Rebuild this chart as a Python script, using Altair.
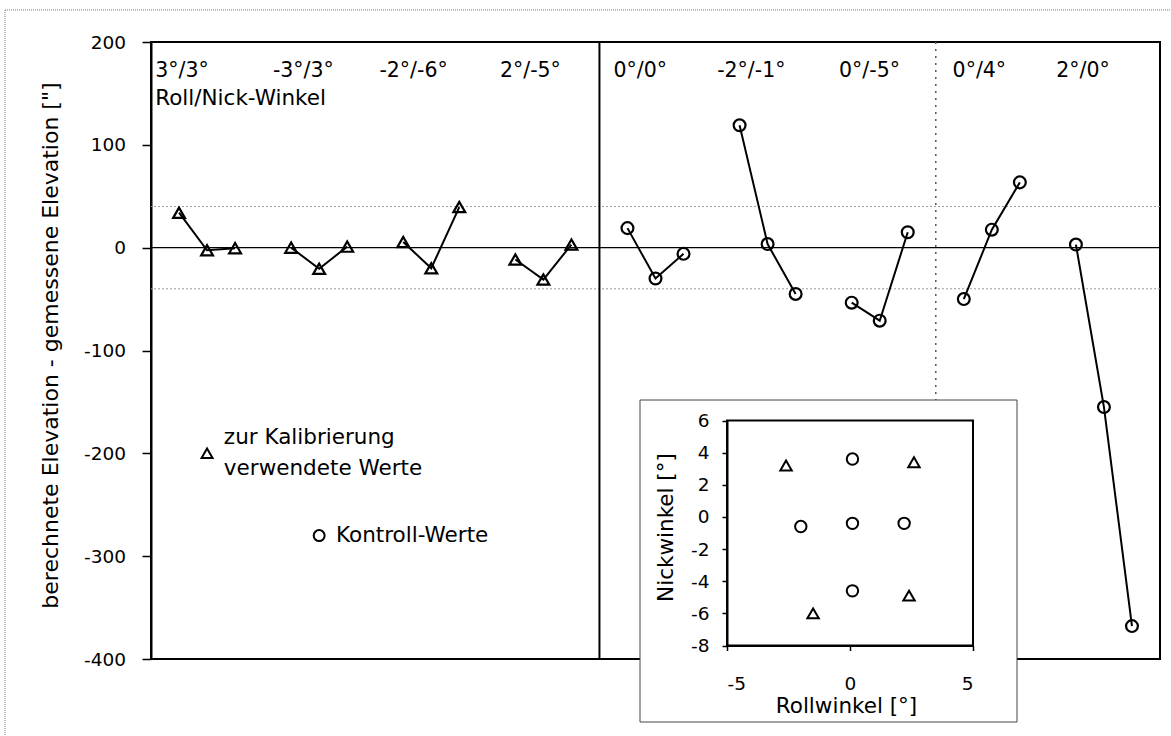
import altair as alt
import pandas as pd

FONT = "DejaVu Sans"

# Roll/pitch settings of the nine measurement series
settings = ["3°/3°", "-3°/3°", "-2°/-6°", "2°/-5°", "0°/0°", "-2°/-1°", "0°/-5°", "0°/4°", "2°/0°"]
series_kind = ["Kalibrierung"] * 4 + ["Kontrolle"] * 5
setting_label_x = [0.15, 4.35, 8.15, 12.45, 16.5, 20.2, 24.55, 28.6, 32.3]

# computed minus measured elevation ["] - three measurements per series
diffs = [
    [34, -2.5, -0.5],
    [0, -20.5, 1],
    [5.5, -20, 39.5],
    [-11.5, -31, 3],
    [19, -30, -6],
    [119, 3.5, -45],
    [-53.5, -71, 15],
    [-50, 17.5, 63.5],
    [3, -155, -368],
]

tolerance = [40, -40]
block_separator = [16]
block_separator_dotted = [28]

legend_kind = ["Kalibrierung", "Kontrolle"]
legend_x = [2.0, 6.0]
legend_y = [-200, -280]
legend_text = ["zur Kalibrierung", "verwendete Werte", "Kontroll-Werte"]
legend_text_x = [2.6, 2.6, 6.6]
legend_text_y = [-191, -221.5, -286.5]

# inset: roll / pitch angles of the series
cal_roll = [-2.6, 2.6, -1.5, 2.4]
cal_nick = [3.2, 3.4, -6.0, -4.9]
ctl_roll = [0.1, -2.0, 0.1, 2.2, 0.1]
ctl_nick = [3.6, -0.6, -0.4, -0.4, -4.6]

# plain hyphen-minus in tick labels
PLAIN_LABEL = "'' + datum.value"

# ---------------------------------------------------------------- tables
rows = []
for j, (lab, vals) in enumerate(zip(settings, diffs)):
    for k, v in enumerate(vals):
        rows.append({"series": lab, "kind": series_kind[j], "x": 1 + 4 * j + k, "y": v})
pts = pd.DataFrame(rows)

labels_df = pd.DataFrame({"x": setting_label_x, "y": [166] * len(settings), "label": settings})
caption_df = pd.DataFrame({"x": [0.15], "y": [139], "label": ["Roll/Nick-Winkel"]})
tol_df = pd.DataFrame({"y": tolerance})
zero_df = pd.DataFrame({"y": [0]})
sep_df = pd.DataFrame({"x": block_separator})
sep2_df = pd.DataFrame({"x": block_separator_dotted})
leg_pts = pd.DataFrame({"kind": legend_kind, "x": legend_x, "y": legend_y})
leg_txt = pd.DataFrame({"x": legend_text_x, "y": legend_text_y, "label": legend_text})
one = pd.DataFrame({"a": [0]})

inset_pts = pd.DataFrame({
    "roll": cal_roll + ctl_roll,
    "nick": cal_nick + ctl_nick,
    "kind": ["Kalibrierung"] * len(cal_roll) + ["Kontrolle"] * len(ctl_roll),
})
inset_frame = pd.DataFrame({"roll": [-5], "roll2": [5], "nick": [-8], "nick2": [6]})

# ---------------------------------------------------------------- encodings
X = alt.X("x:Q", scale=alt.Scale(domain=[0, 36], nice=False, zero=False), axis=None)
Y = alt.Y(
    "y:Q",
    scale=alt.Scale(domain=[-400, 200], nice=False, zero=False),
    axis=alt.Axis(
        values=[-400, -300, -200, -100, 0, 100, 200],
        labelExpr=PLAIN_LABEL,
        title='berechnete Elevation - gemessene Elevation ["]',
        titleFontSize=22, titleFontWeight="normal", titleColor="black",
        titleX=-94, titleY=303, titleBaseline="alphabetic",
        labelFontSize=18.5, labelColor="black", labelPadding=16.5,
        tickSize=9, tickColor="black", tickWidth=1.5,
        domainColor="black", domainWidth=2, grid=False,
    ),
)
SHAPE = alt.Shape(
    "kind:N",
    scale=alt.Scale(domain=["Kalibrierung", "Kontrolle"], range=["triangle-up", "circle"]),
    legend=None,
)

tol = alt.Chart(tol_df).mark_rule(color="#9a9a9a", strokeWidth=1, strokeDash=[2, 2]).encode(y=Y)
sep2 = alt.Chart(sep2_df).mark_rule(color="#555", strokeWidth=1.5, strokeDash=[2, 5]).encode(x=X)
sep = alt.Chart(sep_df).mark_rule(color="black", strokeWidth=2).encode(x=X)
zero = alt.Chart(zero_df).mark_rule(color="black", strokeWidth=1.3).encode(y=Y)

lines = alt.Chart(pts).mark_line(color="black", strokeWidth=2).encode(x=X, y=Y, detail="series:N")
points = alt.Chart(pts).mark_point(filled=False, color="black", strokeWidth=2.2, opacity=1, size=140).encode(
    x=X, y=Y, shape=SHAPE
)
labels = alt.Chart(labels_df).mark_text(
    align="left", baseline="alphabetic", fontSize=20.5, color="black"
).encode(x=X, y=Y, text="label:N")
caption = alt.Chart(caption_df).mark_text(
    align="left", baseline="alphabetic", fontSize=21.5, color="black"
).encode(x=X, y=Y, text="label:N")
leg_marks = alt.Chart(leg_pts).mark_point(filled=False, color="black", strokeWidth=2, opacity=1, size=120).encode(
    x=X, y=Y, shape=SHAPE
)
leg_labels = alt.Chart(leg_txt).mark_text(
    align="left", baseline="alphabetic", fontSize=21.5, color="black"
).encode(x=X, y=Y, text="label:N")

# thin dotted page frame (left and top edges)
frame_top = alt.Chart(one).mark_rule(color="#777", strokeWidth=1, strokeDash=[1, 1]).encode(
    x=alt.value(-146), x2=alt.value(1020), y=alt.value(-32)
)
frame_left = alt.Chart(one).mark_rule(color="#777", strokeWidth=1, strokeDash=[1, 1]).encode(
    x=alt.value(-146), y=alt.value(-32), y2=alt.value(694)
)

main = alt.layer(frame_top, frame_left, tol, sep2, sep, zero, lines, points,
                 labels, caption, leg_marks, leg_labels)

# ---------------------------------------------------------------- inset
IX = alt.X(
    "roll:Q",
    scale=alt.Scale(domain=[-5, 5], range=[576, 822], nice=False, zero=False),
    axis=alt.Axis(
        orient="bottom", offset=-13.5, zindex=1, values=[-5, 0, 5],
        labelExpr=PLAIN_LABEL,
        title="Rollwinkel [°]", titleFontSize=21.5, titleFontWeight="normal", titleColor="black",
        titleX=695, titleY=67, titleBaseline="alphabetic",
        labelFontSize=18.5, labelColor="black", labelPadding=24,
        tickSize=5, tickColor="black", tickWidth=1.5,
        domainColor="black", domainWidth=2, grid=False,
    ),
)
IY = alt.Y(
    "nick:Q",
    scale=alt.Scale(domain=[-8, 6], range=[603.5, 378.5], nice=False, zero=False),
    axis=alt.Axis(
        orient="left", offset=-576, zindex=1, values=[-8, -6, -4, -2, 0, 2, 4, 6],
        labelExpr=PLAIN_LABEL,
        title="Nickwinkel [°]", titleFontSize=21.5, titleFontWeight="normal", titleColor="black",
        titleX=-55, titleY=485, titleBaseline="alphabetic",
        labelFontSize=18.5, labelColor="black", labelPadding=13,
        tickSize=5, tickColor="black", tickWidth=1.5,
        domainColor="black", domainWidth=2, grid=False,
    ),
)

inset_box = alt.Chart(one).mark_rect(fill="white", stroke="#444", strokeWidth=1).encode(
    x=alt.value(489), x2=alt.value(866), y=alt.value(358), y2=alt.value(680)
)
inset_plot = alt.Chart(inset_frame).mark_rect(fillOpacity=0, stroke="black", strokeWidth=2).encode(
    x=IX, x2="roll2:Q", y=IY, y2="nick2:Q"
)
inset_marks = alt.Chart(inset_pts).mark_point(filled=False, color="black", strokeWidth=2, opacity=1, size=130).encode(
    x=IX, y=IY, shape=SHAPE
)
inset = alt.layer(inset_box, inset_plot, inset_marks)

chart = (
    alt.layer(main, inset)
    .resolve_scale(x="independent", y="independent")
    .properties(
        width=1009,
        height=617,
        padding={"left": 151, "top": 42, "right": 11, "bottom": 77},
        autosize=alt.AutoSizeParams(type="none"),
        background="white",
    )
    .configure(font=FONT)
    .configure_view(stroke="black", strokeWidth=2)
)

chart.save("out.html", embed_options={"renderer": "svg", "actions": False})
